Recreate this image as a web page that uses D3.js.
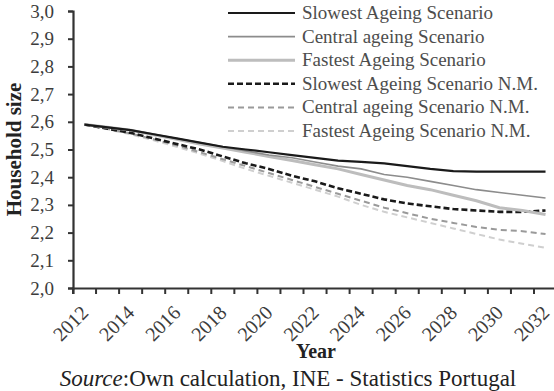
<!DOCTYPE html>
<html>
<head>
<meta charset="utf-8">
<script src="https://cdn.jsdelivr.net/npm/d3@7"></script>
<style>
  body { margin: 0; background: #fff; }
  svg { display: block; font-family: "Liberation Serif", "DejaVu Serif", serif; }
</style>
</head>
<body>
<svg id="chart" width="554" height="391"></svg>
<script>
// ── Data ──────────────────────────────────────────────────────────────────
const years = d3.range(2012, 2033);
const yTicks = [2.0, 2.1, 2.2, 2.3, 2.4, 2.5, 2.6, 2.7, 2.8, 2.9, 3.0];
const xLabelYears = [2012, 2014, 2016, 2018, 2020, 2022, 2024, 2026, 2028, 2030, 2032];

const slowest   = [2.59, 2.58, 2.57, 2.555, 2.54, 2.525, 2.51, 2.50, 2.49, 2.48, 2.47, 2.46, 2.455, 2.45, 2.44, 2.43, 2.422, 2.42, 2.42, 2.42, 2.42];
const central   = [2.59, 2.58, 2.57, 2.555, 2.54, 2.525, 2.51, 2.495, 2.48, 2.47, 2.455, 2.44, 2.43, 2.41, 2.40, 2.385, 2.37, 2.355, 2.345, 2.335, 2.325];
const fastest   = [2.59, 2.58, 2.57, 2.553, 2.537, 2.52, 2.505, 2.49, 2.475, 2.46, 2.445, 2.43, 2.41, 2.39, 2.37, 2.355, 2.335, 2.315, 2.29, 2.28, 2.265];
const slowestNM = [2.59, 2.575, 2.56, 2.54, 2.52, 2.50, 2.475, 2.45, 2.43, 2.405, 2.385, 2.36, 2.34, 2.32, 2.305, 2.295, 2.285, 2.28, 2.275, 2.275, 2.28];
const centralNM = [2.59, 2.575, 2.558, 2.537, 2.515, 2.49, 2.465, 2.44, 2.415, 2.39, 2.365, 2.34, 2.315, 2.29, 2.27, 2.25, 2.235, 2.22, 2.21, 2.205, 2.195];
const fastestNM = [2.59, 2.573, 2.555, 2.533, 2.51, 2.485, 2.458, 2.43, 2.405, 2.38, 2.355, 2.33, 2.30, 2.275, 2.255, 2.235, 2.215, 2.195, 2.175, 2.16, 2.145];

const series = [
  { name: 'Slowest Ageing Scenario',      values: slowest,   color: '#1a1a1a', width: 2.2, dash: null },
  { name: 'Central ageing Scenario',      values: central,   color: '#8c8c8c', width: 1.6, dash: null },
  { name: 'Fastest Ageing Scenario',      values: fastest,   color: '#bdbdbd', width: 3,   dash: null },
  { name: 'Slowest Ageing Scenario N.M.', values: slowestNM, color: '#1a1a1a', width: 2.6, dash: '6,3' },
  { name: 'Central ageing Scenario N.M.', values: centralNM, color: '#9a9a9a', width: 2,   dash: '6,4' },
  { name: 'Fastest Ageing Scenario N.M.', values: fastestNM, color: '#cfcfcf', width: 2,   dash: '6,4' },
];

// ── Layout ────────────────────────────────────────────────────────────────
const svg = d3.select('#chart');
const mLeft = 73, mTop = 11, mBottom = 288;
const step = 23.05;
const mRight = mLeft + step * years.length;

const x = d3.scaleBand().domain(years).range([mLeft, mRight]);
const y = d3.scaleLinear().domain([2.0, 3.0]).range([mBottom, mTop]);

// ── Axes ──────────────────────────────────────────────────────────────────
const yAxis = svg.append('g')
  .attr('transform', `translate(${mLeft},0)`)
  .call(d3.axisLeft(y).tickValues(yTicks).tickSize(5).tickPadding(14)
    .tickFormat(d => d3.format('.1f')(d).replace('.', ',')))
  .attr('font-family', null);

const xAxis = svg.append('g')
  .attr('transform', `translate(0,${mBottom})`)
  .call(d3.axisBottom(x).tickSize(6).tickFormat(''));

// ticks between categories, not at centres
xAxis.selectAll('.tick').remove();
xAxis.selectAll('.btick')
  .data(d3.range(years.length + 1))
  .join('line')
  .attr('x1', i => mLeft + i * x.step()).attr('x2', i => mLeft + i * x.step())
  .attr('y1', 0).attr('y2', 6);

[yAxis, xAxis].forEach(a => {
  a.select('.domain').attr('stroke', '#333').attr('stroke-width', 2.2);
  a.selectAll('line').attr('stroke', '#333').attr('stroke-width', 2);
});
yAxis.selectAll('text').attr('font-size', 19).attr('fill', '#3c3c3c');

// rotated year labels
svg.append('g')
  .selectAll('text')
  .data(xLabelYears)
  .join('text')
  .attr('transform', d => `translate(${x(d) + x.bandwidth() / 2 + 5},${mBottom + 26}) rotate(-45)`)
  .attr('text-anchor', 'end')
  .attr('font-size', 20)
  .attr('fill', '#3c3c3c')
  .text(d => d);

// ── Lines ─────────────────────────────────────────────────────────────────
const line = d3.line()
  .x((d, i) => x(years[i]) + x.bandwidth() / 2)
  .y(d => y(d));

svg.append('g')
  .selectAll('path')
  .data(series.slice().reverse())
  .join('path')
  .attr('fill', 'none')
  .attr('stroke', d => d.color)
  .attr('stroke-width', d => d.width)
  .attr('stroke-dasharray', d => d.dash)
  .attr('d', d => line(d.values));

// ── Legend ────────────────────────────────────────────────────────────────
const legend = svg.append('g');
series.forEach((s, i) => {
  const ly = 13 + i * 23.6;
  legend.append('line')
    .attr('x1', 228).attr('x2', 295).attr('y1', ly).attr('y2', ly)
    .attr('stroke', s.color).attr('stroke-width', s.width)
    .attr('stroke-dasharray', s.dash);
  legend.append('text')
    .attr('x', 302).attr('y', ly + 6)
    .attr('font-size', 19).attr('fill', '#4d4d4d')
    .text(s.name);
});

// ── Titles ────────────────────────────────────────────────────────────────
svg.append('text')
  .attr('transform', `translate(21,${(mTop + mBottom) / 2}) rotate(-90)`)
  .attr('text-anchor', 'middle')
  .attr('font-size', 21).attr('font-weight', 'bold').attr('fill', '#222')
  .text('Household size');

svg.append('text')
  .attr('x', 316).attr('y', 358)
  .attr('text-anchor', 'middle')
  .attr('font-size', 20).attr('font-weight', 'bold').attr('fill', '#222')
  .text('Year');

const src = svg.append('text')
  .attr('x', 288).attr('y', 386)
  .attr('text-anchor', 'middle')
  .attr('font-size', 23).attr('fill', '#222');
src.append('tspan').attr('font-style', 'italic').text('Source');
src.append('tspan').text(':Own calculation, INE - Statistics Portugal');
</script>
</body>
</html>
